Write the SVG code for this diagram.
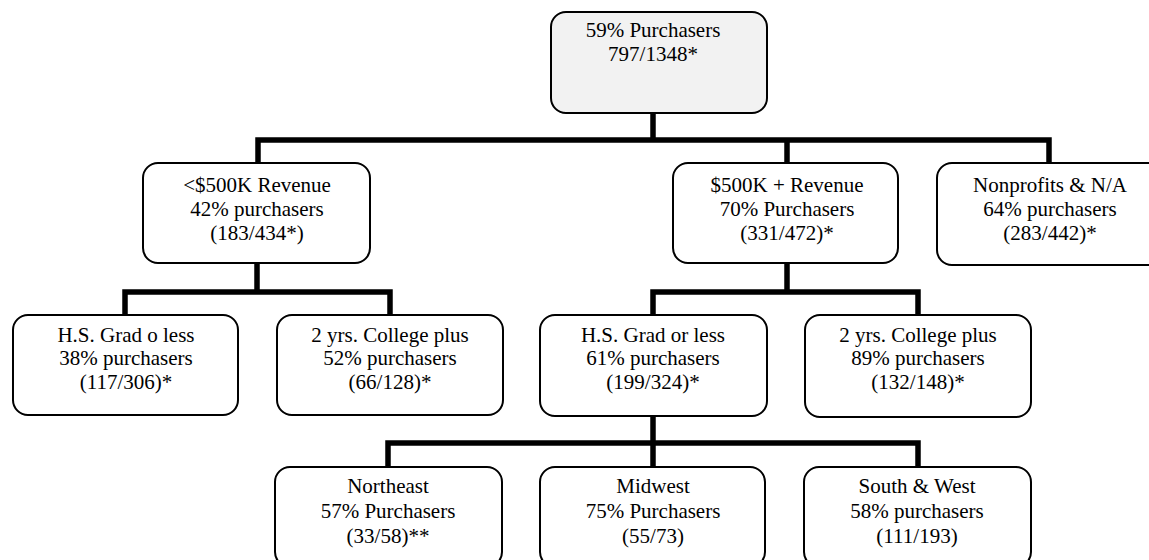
<svg xmlns="http://www.w3.org/2000/svg" width="1149" height="560" viewBox="0 0 1149 560">
  <style>
    .box { fill: #ffffff; stroke: #000000; stroke-width: 2; }
    .root { fill: #f2f2f2; }
    .lbl { font-family: 'Liberation Serif', 'DejaVu Serif', serif; font-size: 21px; fill: #000000; text-anchor: middle; }
    .wire { fill: none; stroke: #000000; stroke-width: 5.5; stroke-linejoin: miter; stroke-linecap: butt; }
  </style>
  <rect width="1149" height="560" fill="#ffffff"/>

  <!-- tree connectors -->
  <g id="connectors">
    <path class="wire" d="M653,113 V140"/>
    <path class="wire" d="M258,163 V140 H1049 V163"/>
    <path class="wire" d="M787,140 V163"/>

    <path class="wire" d="M257,263 V292"/>
    <path class="wire" d="M125,315 V292 H390 V315"/>

    <path class="wire" d="M787,263 V292"/>
    <path class="wire" d="M653,315 V292 H918 V315"/>

    <path class="wire" d="M653,416 V443"/>
    <path class="wire" d="M388,467 V443 H918 V467"/>
    <path class="wire" d="M653,443 V467"/>
  </g>

  <g id="all">
    <rect class="box root" x="551" y="12" width="216" height="101" rx="15"/>
    <text class="lbl" x="653" y="37">59% Purchasers</text>
    <text class="lbl" x="653" y="61">797/1348*</text>
  </g>

  <g id="rev-under-500k">
    <rect class="box" x="143" y="163" width="227" height="100" rx="15"/>
    <text class="lbl" x="257" y="192">&lt;$500K Revenue</text>
    <text class="lbl" x="257" y="216">42% purchasers</text>
    <text class="lbl" x="257" y="240">(183/434*)</text>
  </g>

  <g id="rev-500k-plus">
    <rect class="box" x="673" y="163" width="225" height="100" rx="15"/>
    <text class="lbl" x="787" y="192">$500K + Revenue</text>
    <text class="lbl" x="787" y="216">70% Purchasers</text>
    <text class="lbl" x="787" y="240">(331/472)*</text>
  </g>

  <g id="nonprofits">
    <rect class="box" x="937" y="163" width="226" height="102" rx="15"/>
    <text class="lbl" x="1050" y="192">Nonprofits &amp; N/A</text>
    <text class="lbl" x="1050" y="216">64% purchasers</text>
    <text class="lbl" x="1050" y="240">(283/442)*</text>
  </g>

  <g id="small-hs">
    <rect class="box" x="13" y="315" width="225" height="100" rx="15"/>
    <text class="lbl" x="126" y="342">H.S. Grad o less</text>
    <text class="lbl" x="126" y="365">38% purchasers</text>
    <text class="lbl" x="126" y="389">(117/306)*</text>
  </g>

  <g id="small-college">
    <rect class="box" x="277" y="315" width="226" height="100" rx="15"/>
    <text class="lbl" x="390" y="342">2 yrs. College plus</text>
    <text class="lbl" x="390" y="365">52% purchasers</text>
    <text class="lbl" x="390" y="389">(66/128)*</text>
  </g>

  <g id="large-hs">
    <rect class="box" x="540" y="315" width="227" height="101" rx="15"/>
    <text class="lbl" x="653" y="342">H.S. Grad or less</text>
    <text class="lbl" x="653" y="365">61% purchasers</text>
    <text class="lbl" x="653" y="389">(199/324)*</text>
  </g>

  <g id="large-college">
    <rect class="box" x="805" y="315" width="226" height="102" rx="15"/>
    <text class="lbl" x="918" y="342">2 yrs. College plus</text>
    <text class="lbl" x="918" y="365">89% purchasers</text>
    <text class="lbl" x="918" y="389">(132/148)*</text>
  </g>

  <g id="northeast">
    <rect class="box" x="275" y="467" width="227" height="100" rx="15"/>
    <text class="lbl" x="388" y="493">Northeast</text>
    <text class="lbl" x="388" y="518">57% Purchasers</text>
    <text class="lbl" x="388" y="543">(33/58)**</text>
  </g>

  <g id="midwest">
    <rect class="box" x="540" y="467" width="225" height="100" rx="15"/>
    <text class="lbl" x="653" y="493">Midwest</text>
    <text class="lbl" x="653" y="518">75% Purchasers</text>
    <text class="lbl" x="653" y="543">(55/73)</text>
  </g>

  <g id="south-west">
    <rect class="box" x="804" y="467" width="227" height="100" rx="15"/>
    <text class="lbl" x="917" y="493">South &amp; West</text>
    <text class="lbl" x="917" y="518">58% purchasers</text>
    <text class="lbl" x="917" y="543">(111/193)</text>
  </g>
</svg>
